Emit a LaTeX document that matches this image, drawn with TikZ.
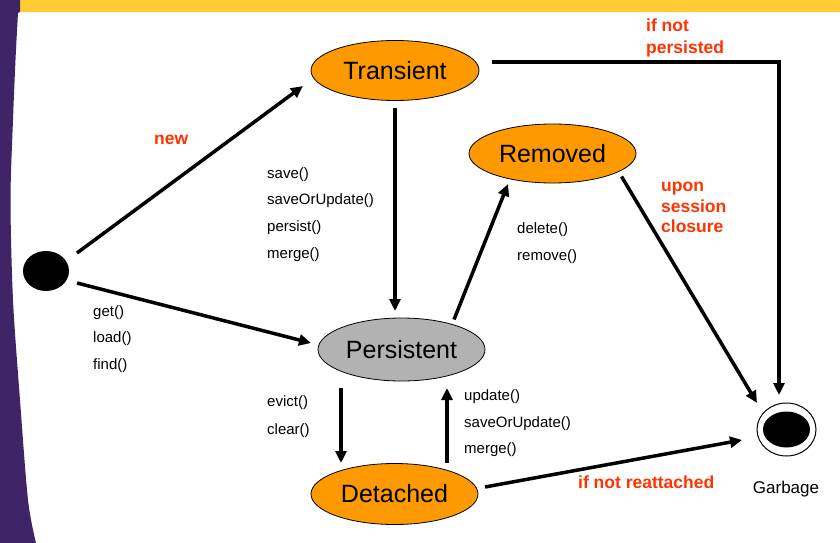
\documentclass[tikz,border=0pt]{standalone}
\usepackage{fontspec}
\setmainfont{Liberation Sans}
\usetikzlibrary{shapes.geometric,arrows.meta,calc}
\definecolor{orng}{HTML}{FF9900}
\definecolor{gry}{HTML}{B2B2B2}
\definecolor{redlab}{HTML}{FF3300}
\definecolor{ylw}{HTML}{FFCC33}
\definecolor{purp}{HTML}{3F2468}
\begin{document}
\begin{tikzpicture}[x=1pt,y=-1pt,
  state/.style={ellipse, draw=black, line width=0.8pt, inner sep=0pt, font=\fontsize{25}{30}\selectfont},
  arr/.style={line width=3.5pt, -{Triangle[length=12pt,width=11pt]}},
  op/.style={anchor=west, inner sep=0pt, font=\fontsize{15}{18}\selectfont},
  cond/.style={anchor=base west, inner sep=0pt, text=redlab, font=\bfseries\fontsize{17.5}{20}\selectfont}]
\useasboundingbox (0,0) rectangle (840,543);
% background decoration
\fill[white] (0,0) rectangle (840,543);
\fill[ylw] (0,0) rectangle (840,12);
\fill[purp] (0,0) -- (20,0) -- (20,12) -- plot[smooth] coordinates {(18,13) (15.5,60) (13,120) (10.5,200) (13,300) (20,400) (28,500) (36,543)} -- (0,543) -- cycle;
% states
\node[state, fill=orng, minimum width=168pt, minimum height=60pt] (trans) at (395,70.5) {Transient};
\node[state, fill=orng, minimum width=167pt, minimum height=59pt] (rem) at (552.5,153.5) {Removed};
\node[state, fill=gry, minimum width=167pt, minimum height=63pt] (pers) at (401.5,349.5) {Persistent};
\node[state, fill=orng, minimum width=167pt, minimum height=61pt] (det) at (394.5,494) {Detached};
\node[ellipse, fill=black, inner sep=0pt, minimum width=46pt, minimum height=40pt] (start) at (46,271) {};
\node[ellipse, draw=black, fill=white, line width=1pt, inner sep=0pt, minimum width=59pt, minimum height=53pt] (garb) at (786.5,429.5) {};
\node[ellipse, fill=black, inner sep=0pt, minimum width=47pt, minimum height=36pt] (garbin) at (garb) {};
\node[anchor=base, inner sep=0pt, font=\fontsize{17}{20}\selectfont] (garblab) at (786,493) {Garbage};
% connectors
\draw[arr] ($(start)+(31,-18)$) -- ($(trans)+(-92,15.5)$);
\draw[arr] ($(start)+(31,12)$) -- ($(pers)+(-90.5,-6.5)$);
\draw[arr] ($(trans)+(0,37.5)$) -- ($(pers)+(-6.5,-38.5)$);
\draw[arr] ($(trans)+(97,-8.5)$) -| ($(garb)+(-7.5,-34.5)$);
\draw[arr] ($(pers)+(52.5,-30)$) -- ($(rem)+(-44.5,30.5)$);
\draw[arr] ($(rem)+(69,23)$) -- ($(garb)+(-29.5,-26.5)$);
\draw[arr] ($(pers)+(-60.5,38.5)$) -- ($(det)+(-53.5,-31)$);
\draw[arr] ($(det)+(52.5,-31)$) -- ($(pers)+(45.5,38.5)$);
\draw[arr] ($(det)+(90.5,-7)$) -- ($(garb)+(-44.5,10.5)$);
% operation labels
\node[op] (l1) at (267,174.5) {save()};
\node[op] (l2) at (267,200.5) {saveOrUpdate()};
\node[op] (l3) at (267,227.5) {persist()};
\node[op] (l4) at (267,254.5) {merge()};
\node[op] (l5) at (93,313) {get()};
\node[op] (l6) at (93,339) {load()};
\node[op] (l7) at (93,366) {find()};
\node[op] (l8) at (517,230) {delete()};
\node[op] (l9) at (517,257) {remove()};
\node[op] (l10) at (267,403) {evict()};
\node[op] (l11) at (267,430.5) {clear()};
\node[op] (l12) at (464,396.5) {update()};
\node[op] (l13) at (464,423.5) {saveOrUpdate()};
\node[op] (l14) at (464,450) {merge()};
% condition labels
\node[cond] (c1) at (154,144) {new};
\node[cond] (c2) at (646,32) {if not};
\node[cond] (c3) at (646,53) {persisted};
\node[cond] (c4) at (661,191) {upon};
\node[cond] (c5) at (661,212) {session};
\node[cond] (c6) at (661,232) {closure};
\node[cond] (c7) at (578,488) {if not reattached};
\end{tikzpicture}
\end{document}
